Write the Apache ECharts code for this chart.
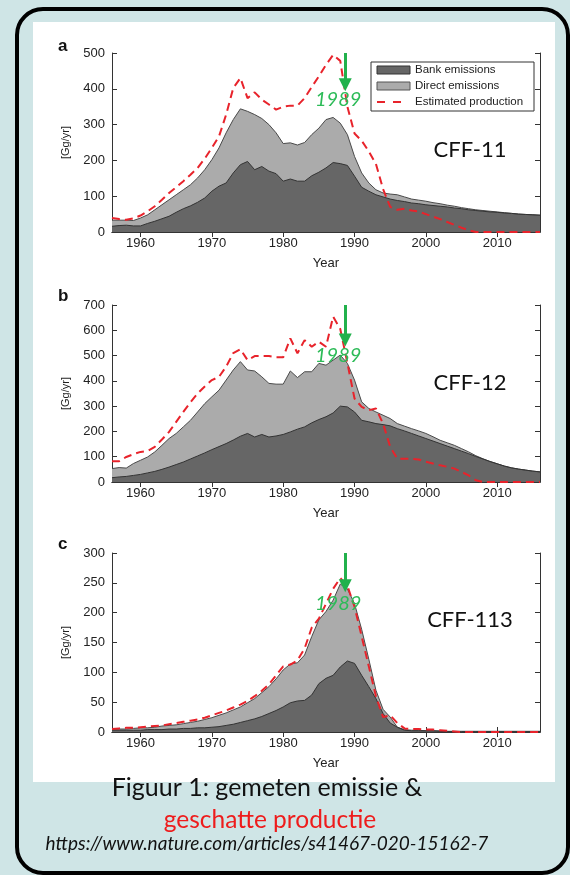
<!DOCTYPE html>
<html>
<head>
<meta charset="utf-8">
<title>CFF emissions</title>
<script src="https://cdn.jsdelivr.net/npm/echarts@6.0.0/dist/echarts.min.js"></script>
<style>
    html, body { margin: 0; padding: 0; background: #cfe5e6; }
    #chart { width: 570px; height: 875px; }
</style>
</head>
<body>
<div id="chart"></div>
<script>
    // years on the x axis
    const years = [];
    for (let y = 1956; y <= 2016; y++) years.push(y);
    const yearTicks = [1960, 1970, 1980, 1990, 2000, 2010];

    // CFF-11 [Gg/yr]  (total = bank + direct emissions)
    const bankA = [16,18,19,17,17,24,30,37,44,55,65,73,83,95,114,128,137,165,188,197,174,183,170,163,142,148,142,142,157,167,179,194,191,186,156,125,114,104,98,92,88,85,81,79,76,74,72,70,67,65,62,60,58,56,55,53,52,50,49,48,47];
    const totalA = [33,33,33,32,39,48,62,76,90,104,118,132,151,174,202,235,277,314,344,337,328,317,300,277,247,249,243,250,272,290,314,320,304,272,211,165,137,118,109,106,104,98,92,89,86,82,79,75,72,68,65,62,60,58,56,54,52,50,49,48,47];
    const prodA = [39,36,34,38,46,58,72,90,109,125,142,160,179,205,235,267,328,402,430,374,390,370,356,342,350,353,353,374,405,435,467,495,478,350,275,255,225,190,120,70,62,65,60,57,50,43,36,28,20,12,5,0,0,0,0,0,0,0,0,0,0];

    // CFF-12
    const bankB = [17,20,22,26,30,36,42,50,59,69,79,91,103,115,128,140,152,166,181,192,178,188,178,182,188,198,209,218,234,247,258,273,300,297,277,244,238,231,227,222,211,202,192,182,172,162,152,142,132,122,112,101,91,81,72,63,56,51,47,43,40];
    const totalB = [53,57,55,73,86,99,119,145,172,192,218,244,277,310,337,363,403,443,476,443,439,416,390,387,387,439,413,436,436,469,462,482,502,469,403,317,291,277,264,251,231,221,211,202,192,179,165,155,145,132,119,104,92,81,72,63,56,51,47,43,40];
    const prodB = [82,82,99,110,119,123,139,168,198,238,277,315,350,378,403,416,456,510,525,482,498,498,498,493,493,568,509,561,535,555,535,654,605,470,330,297,284,291,231,139,92,92,92,89,80,73,66,60,53,40,26,7,0,0,0,0,0,0,0,0,0];

    // CFF-113
    const bankC = [3,3,3,3,3,4,4,4,5,5,6,6,7,7,8,9,11,13,16,19,22,26,31,36,42,49,52,53,62,81,90,95,109,119,115,95,76,56,31,15,8,3,2,2,2,2,1,1,1,1,1,1,1,1,1,1,1,1,1,1,1];
    const totalC = [4,5,5,6,7,7,8,10,11,12,14,16,18,21,24,28,32,37,42,49,56,66,76,89,104,114,116,129,160,188,202,221,248,240,215,172,122,70,38,25,8,4,3,3,2,2,2,1,1,1,1,1,1,1,1,1,1,1,1,1,1];
    const prodC = [5,6,7,7,8,9,10,11,13,15,17,19,21,24,28,32,36,41,46,52,60,69,80,95,110,113,120,140,175,190,215,240,258,245,210,160,110,60,25,28,15,6,5,5,4,4,3,2,1,0,0,0,0,0,0,0,0,0,0,0,0];

    const panels = [
        {name: 'CFF-11', letter: 'a', bank: bankA, total: totalA, prod: prodA, max: 500, step: 100, top: 53, height: 179, arrowEnd: 411, labelVal: 370},
        {name: 'CFF-12', letter: 'b', bank: bankB, total: totalB, prod: prodB, max: 700, step: 100, top: 305, height: 177, arrowEnd: 562, labelVal: 502},
        {name: 'CFF-113', letter: 'c', bank: bankC, total: totalC, prod: prodC, max: 300, step: 50, top: 553, height: 179, arrowEnd: 245, labelVal: 216}
    ];
    const arrowYear = 1988.7;
    const labelYear = 1987.7;

    const axisFont = 'Liberation Sans';
    const green = '#22b14c';
    const red = '#e8232b';

    let grid = [], xAxis = [], yAxis = [], series = [], graphic = [];

    function pairs(arr) {
        return years.map((y, i) => [y, arr[i]]);
    }

    panels.forEach((p, k) => {
        grid.push({left: 112, top: p.top, width: 428, height: p.height});
        // bottom + top x axes
        xAxis.push({
            type: 'value', gridIndex: k, min: 1956, max: 2016,
            name: 'Year', nameLocation: 'middle', nameGap: 25,
            nameTextStyle: {fontFamily: axisFont, fontSize: 13, color: '#222'},
            axisLine: {lineStyle: {color: '#333', width: 1}},
            axisTick: {inside: true, length: 5, customValues: yearTicks, lineStyle: {color: '#333'}},
            axisLabel: {customValues: yearTicks, formatter: v => String(v), margin: 5, fontFamily: axisFont, fontSize: 13, color: '#222'},
            splitLine: {show: false}
        });
        xAxis.push({
            type: 'value', gridIndex: k, min: 1956, max: 2016, position: 'top',
            axisLine: {lineStyle: {color: '#333', width: 1}},
            axisTick: {inside: true, length: 5, customValues: yearTicks, lineStyle: {color: '#333'}},
            axisLabel: {show: false},
            splitLine: {show: false}
        });
        // left + right y axes
        yAxis.push({
            type: 'value', gridIndex: k, min: 0, max: p.max, interval: p.step,
            name: '[Gg/yr]', nameLocation: 'middle', nameGap: 41,
            nameTextStyle: {fontFamily: axisFont, fontSize: 11, color: '#222'},
            axisLine: {show: true, lineStyle: {color: '#333', width: 1}},
            axisTick: {show: true, inside: true, length: 5, lineStyle: {color: '#333'}},
            axisLabel: {margin: 7, fontFamily: axisFont, fontSize: 13, color: '#222'},
            splitLine: {show: false}
        });
        yAxis.push({
            type: 'value', gridIndex: k, min: 0, max: p.max, interval: p.step, position: 'right',
            axisLine: {show: true, lineStyle: {color: '#333', width: 1}},
            axisTick: {show: true, inside: true, length: 5, lineStyle: {color: '#333'}},
            axisLabel: {show: false},
            splitLine: {show: false}
        });

        const xi = k * 2, yi = k * 2;
        series.push({
            name: 'Direct emissions', type: 'line', xAxisIndex: xi, yAxisIndex: yi,
            data: pairs(p.total), symbol: 'none',
            lineStyle: {color: '#4a4a4a', width: 1},
            areaStyle: {color: '#ababab', opacity: 1}
        });
        series.push({
            name: 'Bank emissions', type: 'line', xAxisIndex: xi, yAxisIndex: yi,
            data: pairs(p.bank), symbol: 'none',
            lineStyle: {color: '#333', width: 1},
            areaStyle: {color: '#666666', opacity: 1}
        });
        series.push({
            name: 'Estimated production', type: 'line', xAxisIndex: xi, yAxisIndex: yi,
            data: pairs(p.prod), symbol: 'none', clip: false,
            lineStyle: {color: red, width: 2, type: [8, 5]},
            markPoint: {
                silent: true, animation: false,
                symbolSize: 0,
                label: {show: true, formatter: '1989', position: 'inside', color: '#2dbb58', fontFamily: 'Lato', fontStyle: 'italic', fontSize: 20},
                data: [{coord: [labelYear, p.labelVal]}]
            }
        });
        // green 1989 arrow on top
        series.push({
            name: '1989', type: 'line', xAxisIndex: xi, yAxisIndex: yi,
            data: [], symbol: 'none', clip: false, z: 5,
            markLine: {
                silent: true, animation: false,
                symbol: ['none', 'triangle'], symbolSize: 13,
                lineStyle: {color: green, width: 3, type: 'solid'},
                label: {show: false},
                data: [[{coord: [arrowYear, p.max]}, {coord: [arrowYear, p.arrowEnd]}]]
            }
        });

        graphic.push({
            type: 'text', z: 10, style: {x: 470, y: p.top + (k === 0 ? 97 : (k === 1 ? 78 : 67)), text: p.name, fill: '#111', font: '22px Lato', textAlign: 'center', textVerticalAlign: 'middle'}
        });
        graphic.push({
            type: 'text', z: 10, style: {x: 58, y: p.top - (k === 0 ? 7 : 9), text: p.letter, fill: '#111', font: 'bold 17px Liberation Sans', textVerticalAlign: 'middle'}
        });
    });

    // frame and panel
    graphic.unshift(
        {type: 'rect', z: -20, shape: {x: 17, y: 9, width: 551, height: 864, r: 26}, style: {fill: '#cfe5e6', stroke: '#000', lineWidth: 4}},
        {type: 'rect', z: -19, shape: {x: 33, y: 22, width: 522, height: 760}, style: {fill: '#fff'}}
    );

    // legend of panel a
    graphic.push({
        type: 'group', z: 20, x: 371, y: 62,
        children: [
            {type: 'rect', shape: {x: 0, y: 0, width: 163, height: 49}, style: {fill: '#fff', stroke: '#333', lineWidth: 1}},
            {type: 'rect', shape: {x: 6, y: 4, width: 33, height: 8}, style: {fill: '#666', stroke: '#333', lineWidth: 1}},
            {type: 'text', style: {x: 44, y: 8, text: 'Bank emissions', font: '11.5px Liberation Sans', fill: '#222', textVerticalAlign: 'middle'}},
            {type: 'rect', shape: {x: 6, y: 20, width: 33, height: 8}, style: {fill: '#ababab', stroke: '#555', lineWidth: 1}},
            {type: 'text', style: {x: 44, y: 24, text: 'Direct emissions', font: '11.5px Liberation Sans', fill: '#222', textVerticalAlign: 'middle'}},
            {type: 'line', shape: {x1: 6, y1: 40, x2: 31, y2: 40}, style: {stroke: red, lineWidth: 2, lineDash: [8, 8]}},
            {type: 'text', style: {x: 44, y: 40, text: 'Estimated production', font: '11.5px Liberation Sans', fill: '#222', textVerticalAlign: 'middle'}}
        ]
    });

    // caption
    graphic.push(
        {type: 'text', z: 30, style: {x: 267, y: 788, text: 'Figuur 1: gemeten emissie &', font: '25px Lato', fill: '#111', textAlign: 'center', textVerticalAlign: 'middle'}},
        {type: 'text', z: 30, style: {x: 270, y: 820, text: 'geschatte productie', font: '24.5px Lato', fill: '#ee1c1c', textAlign: 'center', textVerticalAlign: 'middle'}},
        {type: 'text', z: 30, style: {x: 267, y: 844, text: 'https://www.nature.com/articles/s41467-020-15162-7', font: 'italic 19px Lato', fill: '#111', textAlign: 'center', textVerticalAlign: 'middle'}}
    );

    let myChart = echarts.init(document.getElementById('chart'), null, {renderer: 'canvas'});
    let option = {
        backgroundColor: '#cfe5e6',
        animation: false,
        grid: grid,
        xAxis: xAxis,
        yAxis: yAxis,
        series: series,
        graphic: graphic
    };
    myChart.setOption(option);
</script>
</body>
</html>
